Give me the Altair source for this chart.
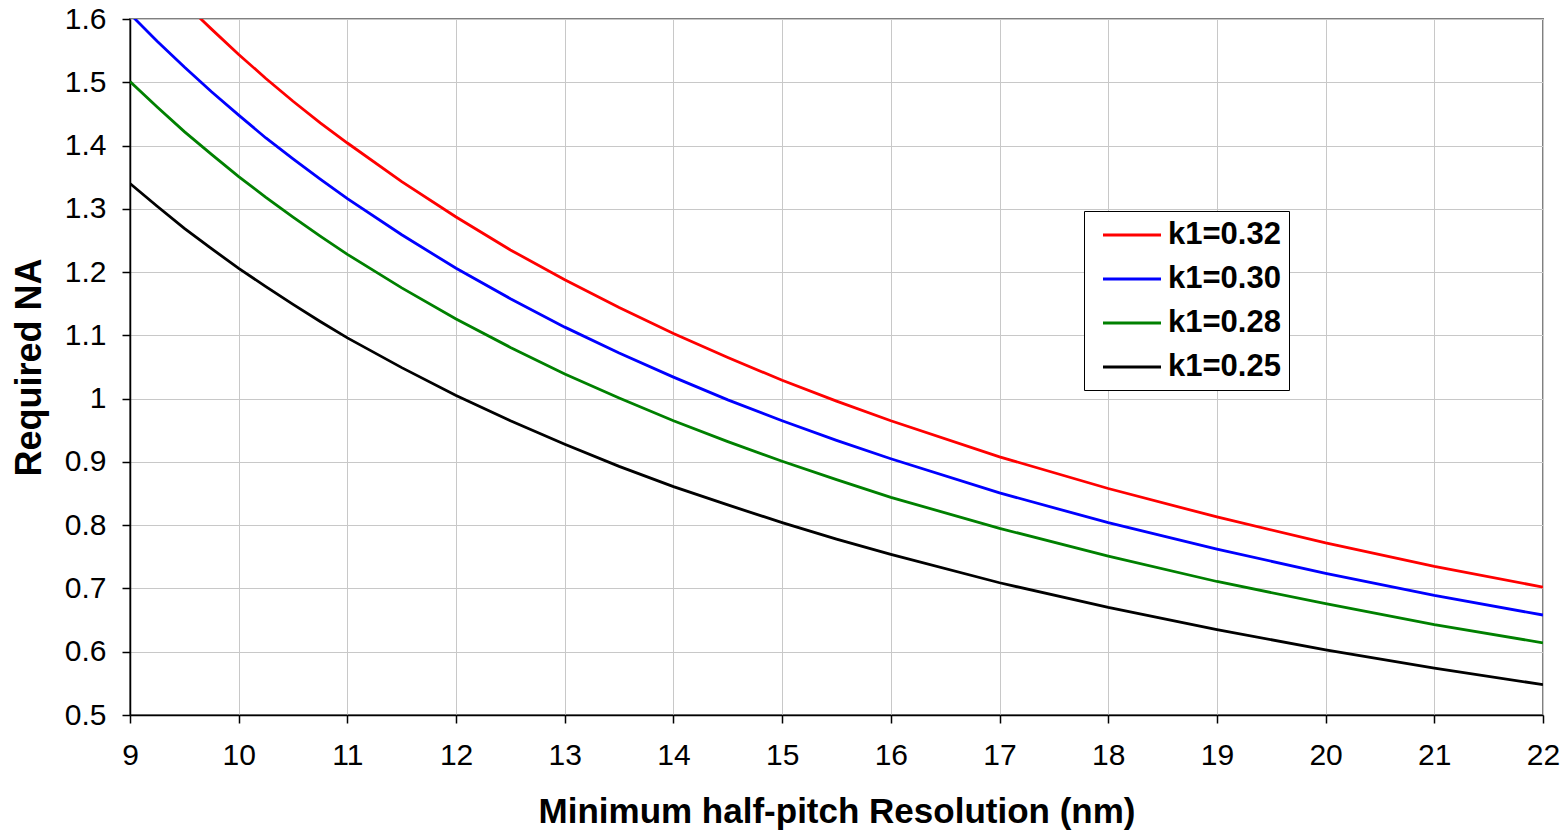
import altair as alt
import pandas as pd

# Minimum half-pitch resolution (nm)
hp = [9, 9.25, 9.5, 9.75, 10, 10.25, 10.5, 10.75, 11, 11.5, 12, 12.5, 13, 13.5,
      14, 14.5, 15, 15.5, 16, 17, 18, 19, 20, 21, 22]

na_k032 = [1.716, 1.669, 1.625, 1.584, 1.544, 1.506, 1.470, 1.436, 1.404, 1.343,
           1.287, 1.235, 1.188, 1.144, 1.103, 1.065, 1.029, 0.996, 0.965, 0.908,
           0.858, 0.813, 0.772, 0.735, 0.702]
na_k030 = [1.608, 1.565, 1.524, 1.485, 1.448, 1.412, 1.379, 1.347, 1.316, 1.259,
           1.206, 1.158, 1.113, 1.072, 1.034, 0.998, 0.965, 0.934, 0.905, 0.851,
           0.804, 0.762, 0.724, 0.689, 0.658]
na_k028 = [1.501, 1.461, 1.422, 1.386, 1.351, 1.318, 1.287, 1.257, 1.228, 1.175,
           1.126, 1.081, 1.039, 1.001, 0.965, 0.932, 0.901, 0.872, 0.844, 0.795,
           0.751, 0.711, 0.676, 0.643, 0.614]
na_k025 = [1.340, 1.304, 1.269, 1.237, 1.206, 1.177, 1.149, 1.122, 1.096, 1.049,
           1.005, 0.965, 0.928, 0.893, 0.861, 0.832, 0.804, 0.778, 0.754, 0.709,
           0.670, 0.635, 0.603, 0.574, 0.548]

series = ["k1=0.32", "k1=0.30", "k1=0.28", "k1=0.25"]
colors = ["#FF0000", "#0000FF", "#008000", "#000000"]
x_ticks = list(range(9, 23))
y_ticks = [0.5, 0.6, 0.7, 0.8, 0.9, 1.0, 1.1, 1.2, 1.3, 1.4, 1.5, 1.6]

rows = []
for name, vals in zip(series, [na_k032, na_k030, na_k028, na_k025]):
    for x, y in zip(hp, vals):
        rows.append({"hp": x, "na": y, "k1": name})
df = pd.DataFrame(rows)

FONT = "Liberation Sans"

chart = alt.Chart(df).mark_line(clip=True, strokeWidth=2.8).encode(
    x=alt.X("hp:Q",
            scale=alt.Scale(domain=[9, 22], nice=False, zero=False),
            axis=alt.Axis(values=x_ticks, format="d",
                          title="Minimum half-pitch Resolution (nm)",
                          labelFontSize=30, labelPadding=17,
                          labelFlush=False, labelOverlap=False,
                          titleFontSize=35, titlePadding=24)),
    y=alt.Y("na:Q",
            scale=alt.Scale(domain=[0.5, 1.6], nice=False, zero=False),
            axis=alt.Axis(values=y_ticks, format=".2~f",
                          title="Required NA",
                          labelFontSize=30, labelPadding=16,
                          labelFlush=False, labelOverlap=False,
                          titleFontSize=36, titlePadding=16)),
    color=alt.Color("k1:N",
                    scale=alt.Scale(domain=series, range=colors),
                    legend=alt.Legend(title=None, orient="none",
                                      legendX=954, legendY=192,
                                      symbolType="M-2,0H2", symbolSize=841,
                                      symbolStrokeWidth=2.8,
                                      symbolOffset=24, labelOffset=20,
                                      labelFont=FONT, labelFontSize=31,
                                      labelFontWeight="bold", labelColor="black",
                                      labelLimit=400, rowPadding=13, padding=8,
                                      strokeColor="black", fillColor="white")),
).properties(
    width=1413, height=696,
    autosize=alt.AutoSizeParams(type="none"),
    padding={"left": 122, "top": 11, "right": 17, "bottom": 117},
).configure_view(
    stroke="#808080", strokeWidth=2
).configure_axis(
    labelFont=FONT, titleFont=FONT, labelColor="black", titleColor="black",
    titleFontWeight="bold", domainColor="black", domainWidth=1.5,
    tickColor="black", tickSize=8, tickWidth=1.5,
    gridColor="#c8c8c8", gridWidth=1
)

chart.save("out.html", embed_options={"renderer": "svg", "actions": False})
